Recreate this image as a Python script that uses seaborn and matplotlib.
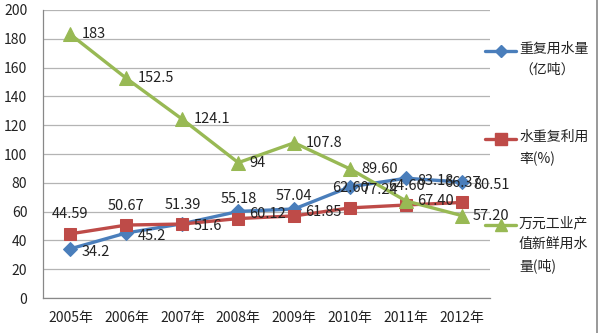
import matplotlib
matplotlib.use("Agg")
import matplotlib.pyplot as plt
import seaborn as sns
import pandas as pd
from matplotlib.lines import Line2D
from matplotlib.ticker import MultipleLocator, FixedLocator

years = ["2005年", "2006年", "2007年", "2008年", "2009年", "2010年", "2011年", "2012年"]
reuse_volume = [34.2, 45.2, 51.6, 60.12, 61.85, 77.24, 83.18, 80.51]
reuse_volume_labels = ["34.2", "45.2", "51.6", "60.12", "61.85", "77.24", "83.18", "80.51"]
reuse_rate = [44.59, 50.67, 51.39, 55.18, 57.04, 62.60, 64.60, 66.37]
reuse_rate_labels = ["44.59", "50.67", "51.39", "55.18", "57.04", "62.60", "64.60", "66.37"]
fresh_water = [183, 152.5, 124.1, 94, 107.8, 89.60, 67.40, 57.20]
fresh_water_labels = ["183", "152.5", "124.1", "94", "107.8", "89.60", "67.40", "57.20"]
legend_labels = ["重复用水量\n（亿吨）", "水重复利用\n率(%)", "万元工业产\n值新鲜用水\n量(吨)"]

sns.set_theme(style="white")
plt.rcParams["font.family"] = ["Noto Sans CJK SC", "DejaVu Sans"]

blue = "#4A7EBB"
red = "#BE4B48"
green = "#98B954"

fig = plt.figure(figsize=(5.99, 3.33), dpi=100)
ax = fig.add_axes([0.071, 0.105, 0.747, 0.865])

df = pd.DataFrame({"year": years, "v": reuse_volume, "r": reuse_rate, "f": fresh_water})
df["i"] = range(len(years))

sns.lineplot(data=df, x="i", y="v", ax=ax, color=blue, linewidth=2.4,
             marker="D", markersize=7, markeredgecolor=blue, zorder=3)
sns.lineplot(data=df, x="i", y="r", ax=ax, color=red, linewidth=2.4,
             marker="s", markersize=9, markeredgecolor=red, zorder=4)
sns.lineplot(data=df, x="i", y="f", ax=ax, color=green, linewidth=2.4,
             marker="^", markersize=10.5, markeredgecolor=green, zorder=5)

fs = 10.5
for i in range(len(years)):
    ax.annotate(reuse_volume_labels[i], (i, reuse_volume[i]), xytext=(8, -2),
                textcoords="offset points", va="center", ha="left", fontsize=fs, color="#222222", zorder=6)
    ax.annotate(reuse_rate_labels[i], (i, reuse_rate[i]), xytext=(0, 14),
                textcoords="offset points", va="center", ha="center", fontsize=fs, color="#222222", zorder=6)
    ax.annotate(fresh_water_labels[i], (i, fresh_water[i]), xytext=(8, 0),
                textcoords="offset points", va="center", ha="left", fontsize=fs, color="#222222", zorder=6)

ax.set_xlim(-0.5, len(years) - 0.5)
ax.set_ylim(0, 200)
ax.yaxis.set_major_locator(MultipleLocator(20))
ax.set_xticks(range(len(years)))
ax.set_xticklabels(years)
ax.xaxis.set_minor_locator(FixedLocator([k - 0.5 for k in range(len(years) + 1)]))
ax.tick_params(axis="x", which="major", length=0, pad=9, labelsize=10, labelcolor="#222222")
ax.tick_params(axis="x", which="minor", length=5, width=0.8, color="#888888", direction="out")
ax.tick_params(axis="y", which="major", length=5, width=0.8, color="#888888", direction="out",
               pad=6, labelsize=10, labelcolor="#222222")
ax.set_xlabel("")
ax.set_ylabel("")
ax.grid(axis="y", color="#B4B4B4", linewidth=0.9)
ax.set_axisbelow(True)
for s in ["top", "right"]:
    ax.spines[s].set_visible(False)
for s in ["left", "bottom"]:
    ax.spines[s].set_color("#888888")
    ax.spines[s].set_linewidth(0.9)

# legend (manual, handle aligned with first text line)
colors = [blue, red, green]
markers = ["D", "s", "^"]
msizes = [6, 9, 9]
ys = [1 - 51 / 333, 1 - 139 / 333, 1 - 225 / 333]
for lab, c, m, ms, y in zip(legend_labels, colors, markers, msizes, ys):
    fig.add_artist(Line2D([485 / 599, 516 / 599], [y, y], transform=fig.transFigure,
                          color=c, linewidth=2.4))
    fig.add_artist(Line2D([500.5 / 599], [y], transform=fig.transFigure, color=c,
                          marker=m, markersize=ms, markeredgecolor=c, linestyle="none"))
    fig.text(519 / 599, y + 9 / 333, lab, ha="left", va="top", fontsize=10,
             color="#222222", linespacing=1.65)

fig.add_artist(Line2D([597 / 599, 597 / 599], [0, 1], transform=fig.transFigure,
                      color="#888888", linewidth=1.2))

fig.savefig("out.png", dpi=100)
